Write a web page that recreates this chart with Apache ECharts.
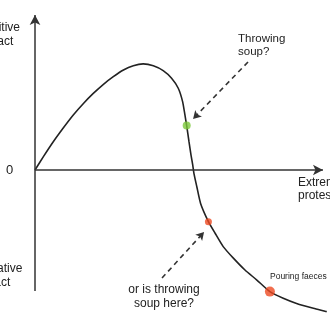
<!DOCTYPE html>
<html><head><meta charset="utf-8">
<script src="https://cdn.jsdelivr.net/npm/echarts@6/dist/echarts.min.js"></script>
<style>html,body{margin:0;padding:0;background:#fff}#c{width:330px;height:330px}</style>
</head><body><div id="c"></div>
<script>
// curve of impact vs extremeness of protest
const curveX = [0, 0.29, 0.63, 0.98, 1.32, 1.67, 2.01, 2.36, 2.70, 3.05, 3.39, 3.73, 4.08, 4.42, 4.71, 4.94, 5.09, 5.17, 5.23, 5.31, 5.38, 5.44, 5.48, 5.58, 5.71, 5.98, 6.21, 6.49, 6.84, 7.24, 7.65, 8.10, 8.56, 9.02, 9.60, 10.06];
const curveY = [0, 0.44, 0.93, 1.39, 1.81, 2.19, 2.52, 2.82, 3.07, 3.29, 3.43, 3.49, 3.43, 3.27, 3.02, 2.69, 2.25, 1.81, 1.46, 0.93, 0.49, 0.16, -0.11, -0.55, -1.10, -1.70, -2.08, -2.52, -2.90, -3.29, -3.62, -4.00, -4.22, -4.39, -4.55, -4.66];
// highlighted points
const greenPt = [[5.23, 1.46]];
const redPts = [[5.98, -1.70]];
const bigRedPts = [[8.10, -4.00]];
// axis arrows
const xAxisLine = [[0, 0], [9.93, 0]];
const yAxisLine = [[0, -3.98], [0, 5.1]];
// dashed annotation arrows
const arrow1 = [[7.345, 3.553], [5.45, 1.68]];
const arrow2 = [[4.38, -3.553], [5.83, -2.04]];

const chart = echarts.init(document.getElementById('c'));
const font = 'Liberation Sans, Arial, sans-serif';
chart.setOption({
  animation: false,
  grid: {left: 35, right: 5, top: 2.8, bottom: 8},
  xAxis: {type: 'value', min: 0, max: 10, show: false},
  yAxis: {type: 'value', min: -5, max: 5.5, show: false},
  series: [
    {type: 'line', data: curveX.map((x, i) => [x, curveY[i]]), smooth: 0.2, symbol: 'none',
     lineStyle: {color: '#222', width: 1.6}, clip: false, z: 3},
    {type: 'line', data: [], symbol: 'none', clip: false,
     markLine: {silent: true, symbol: ['none', 'arrow'], symbolSize: [8, 10], label: {show: false},
       lineStyle: {color: '#333', width: 1.5, type: 'solid'},
       data: [
         [{coord: xAxisLine[0]}, {coord: xAxisLine[1]}],
         [{coord: yAxisLine[0]}, {coord: yAxisLine[1]}]
       ]}},
    {type: 'line', data: [], symbol: 'none', clip: false,
     markLine: {silent: true, symbol: ['none', 'arrow'], symbolSize: [7, 8], label: {show: false},
       lineStyle: {color: '#333', width: 1.6, type: [5, 4]},
       data: [
         [{coord: arrow1[0]}, {coord: arrow1[1]}],
         [{coord: arrow2[0]}, {coord: arrow2[1]}]
       ]}},
    {type: 'scatter', data: greenPt, symbolSize: 8, itemStyle: {color: '#7cc83a'}, z: 5},
    {type: 'scatter', data: redPts, symbolSize: 7, itemStyle: {color: '#ee4a22'}, z: 5},
    {type: 'scatter', data: bigRedPts, symbolSize: 10, itemStyle: {color: '#ee4a22'}, z: 5}
  ],
  graphic: [
    {type: 'text', left: -22, top: 21, style: {text: 'Positive\nimpact', font: '12px ' + font, fill: '#222', lineHeight: 14}},
    {type: 'text', left: -25, top: 262, style: {text: 'Negative\nimpact', font: '12px ' + font, fill: '#222', lineHeight: 14}},
    {type: 'text', left: 6, top: 164, style: {text: '0', font: '13px ' + font, fill: '#222'}},
    {type: 'text', left: 298, top: 176, style: {text: 'Extreme\nprotest', font: '12px ' + font, fill: '#222', lineHeight: 13}},
    {type: 'text', left: 238, top: 32, style: {text: 'Throwing\nsoup?', font: '11.5px ' + font, fill: '#222', lineHeight: 13}},
    {type: 'text', x: 164, y: 283, style: {text: 'or is throwing\nsoup here?', font: '12px ' + font, fill: '#222', lineHeight: 14, textAlign: 'center'}},
    {type: 'text', left: 270, top: 272, style: {text: 'Pouring faeces', font: '8.5px ' + font, fill: '#222'}}
  ]
});
</script></body></html>
